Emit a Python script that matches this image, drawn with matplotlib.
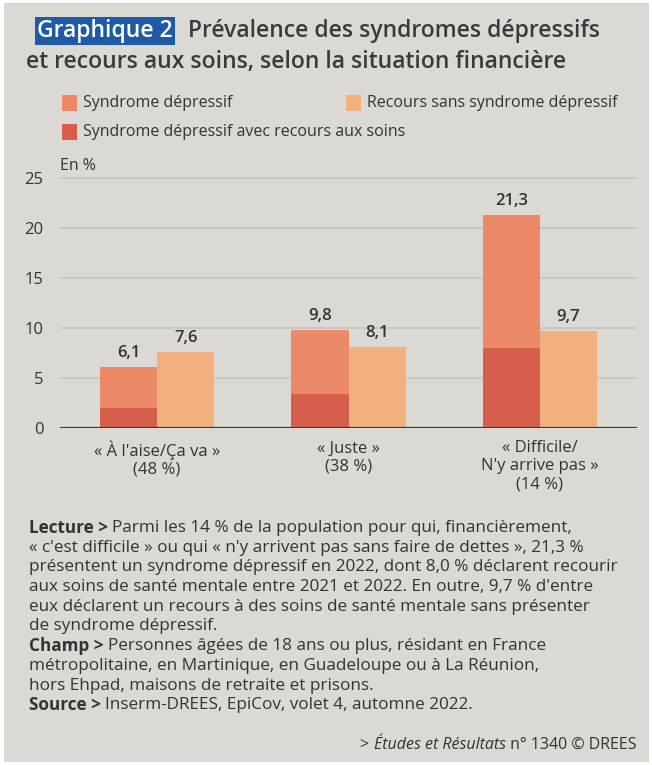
import matplotlib.pyplot as plt
from matplotlib.patches import Rectangle

# Data
categories = ["« À l'aise/Ça va »\n(48 %)", "« Juste »\n(38 %)", "« Difficile/\nN'y arrive pas »\n(14 %)"]
syndrome = [6.1, 9.8, 21.3]
syndrome_recours = [2.0, 3.4, 8.0]
recours_sans = [7.6, 8.1, 9.7]
syndrome_labels = ["6,1", "9,8", "21,3"]
recours_labels = ["7,6", "8,1", "9,7"]

BG = '#dcd8d3'
C_SYN = '#ec8a68'
C_REC = '#f3b07f'
C_DARK = '#d65e4c'
TXT = '#333333'

plt.rcParams['font.family'] = ['Open Sans', 'DejaVu Sans']

fig = plt.figure(figsize=(6.52, 7.65), dpi=100)
fig.patch.set_facecolor('white')
fig.patches.append(Rectangle((4 / 652, 0.004), 645 / 652, 1 - 0.004 - 3 / 765,
                             transform=fig.transFigure, facecolor=BG,
                             edgecolor='none', zorder=-5))
renderer = fig.canvas.get_renderer()

ax = fig.add_axes([60 / 652, 1 - 428 / 765, 577 / 652, 251 / 765])
ax.set_facecolor(BG)
ax.patch.set_alpha(0)

x = range(len(categories))
w = 0.298
xs_left = [i - w / 2 for i in x]
xs_right = [i + w / 2 for i in x]

ax.bar(xs_left, syndrome, width=w, color=C_SYN, zorder=3)
ax.bar(xs_left, syndrome_recours, width=w, color=C_DARK, zorder=3)
ax.bar(xs_right, recours_sans, width=w, color=C_REC, zorder=3)

for xi, v, lab in zip(xs_left, syndrome, syndrome_labels):
    ax.text(xi, v + 0.6, lab, ha='center', va='bottom', fontsize=12,
            fontweight='semibold', color=TXT)
for xi, v, lab in zip(xs_right, recours_sans, recours_labels):
    ax.text(xi, v + 0.6, lab, ha='center', va='bottom', fontsize=12,
            fontweight='semibold', color=TXT)

ax.set_xlim(-0.507, 2.507)
ax.set_ylim(0, 25.05)
ax.set_yticks([0, 5, 10, 15, 20, 25])
ax.set_yticklabels(['0', '5', '10', '15', '20', '25'])
ax.grid(axis='y', color='#c4c4c6', linewidth=1.2, zorder=1)
ax.axhline(0, color='#3a3a3a', linewidth=1.6, zorder=4)
for s in ax.spines.values():
    s.set_visible(False)
ax.tick_params(axis='y', length=0, labelsize=12, colors=TXT, pad=12)
ax.tick_params(axis='x', length=0, labelsize=12, colors=TXT, pad=9)
ax.set_xticks(list(x))
ax.set_xticklabels(categories, linespacing=1.15)

ax.text(0.0, 25.3, 'En %', ha='left', va='bottom', fontsize=11.5, color=TXT,
        transform=ax.get_yaxis_transform())

# Title
fig.text(37 / 652, 1 - 31 / 765, 'Graphique 2', ha='left', va='center',
         fontsize=16.5, fontweight='semibold', color='white',
         bbox=dict(facecolor='#1f5aa6', edgecolor='none', pad=1.5))
fig.text(188 / 652, 1 - 31 / 765, 'Prévalence des syndromes dépressifs',
         ha='left', va='center', fontsize=16.5, fontweight='semibold', color='#3a3a3a')
fig.text(26 / 652, 1 - 62 / 765, 'et recours aux soins, selon la situation financière',
         ha='left', va='center', fontsize=16.5, fontweight='semibold', color='#3a3a3a')

# Legend
legend_items = [
    (62, 103, C_SYN, 'Syndrome dépressif'),
    (346, 103, C_REC, 'Recours sans syndrome dépressif'),
    (62, 132, C_DARK, 'Syndrome dépressif avec recours aux soins'),
]
for lx, ly, col, lab in legend_items:
    fig.patches.append(Rectangle((lx / 652, 1 - (ly + 8) / 765), 15 / 652, 16 / 765,
                                 transform=fig.transFigure, facecolor=col,
                                 edgecolor='none', zorder=2))
    fig.text((lx + 21) / 652, 1 - ly / 765, lab, ha='left', va='center',
             fontsize=11.5, color=TXT, fontstretch='semi-condensed')

# Notes
notes = [
    ('Lecture > ', "Parmi les 14 % de la population pour qui, financièrement,"),
    ('', "« c'est difficile » ou qui « n'y arrivent pas sans faire de dettes », 21,3 %"),
    ('', "présentent un syndrome dépressif en 2022, dont 8,0 % déclarent recourir"),
    ('', "aux soins de santé mentale entre 2021 et 2022. En outre, 9,7 % d'entre"),
    ('', "eux déclarent un recours à des soins de santé mentale sans présenter"),
    ('', "de syndrome dépressif."),
    ('Champ > ', "Personnes âgées de 18 ans ou plus, résidant en France"),
    ('', "métropolitaine, en Martinique, en Guadeloupe ou à La Réunion,"),
    ('', "hors Ehpad, maisons de retraite et prisons."),
    ('Source > ', "Inserm-DREES, EpiCov, volet 4, automne 2022."),
]
y0 = 528
dy = 19.7
for i, (bold, rest) in enumerate(notes):
    yy = 1 - (y0 + i * dy) / 765
    xx = 29 / 652
    if bold:
        t = fig.text(xx, yy, bold, ha='left', va='center', fontsize=12.3,
                     fontweight='bold', color=TXT)
        bb = t.get_window_extent(renderer=renderer)
        xx = bb.x1 / fig.bbox.width
    fig.text(xx, yy, rest, ha='left', va='center', fontsize=12.3, color=TXT)

# Credit line, built right to left
parts = [(' n° 1340 © DREES', 'normal'), ('Études et Résultats', 'italic'), ('> ', 'normal')]
xr = 636 / 652
for txt, style in parts:
    t = fig.text(xr, 1 - 745 / 765, txt, ha='right', va='center', fontsize=11.5,
                 style=style, color=TXT)
    xr = t.get_window_extent(renderer=renderer).x0 / fig.bbox.width

fig.savefig('out.png', dpi=100, facecolor=fig.get_facecolor())
